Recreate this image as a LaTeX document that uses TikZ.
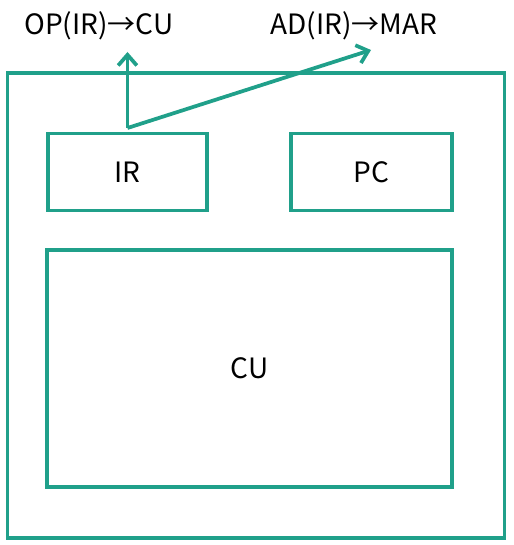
\documentclass[tikz,border=0pt]{standalone}
\usepackage{fontspec}
\setmainfont{Noto Sans CJK SC}
\usetikzlibrary{arrows.meta}
\definecolor{teal1}{RGB}{32,160,138}
\begin{document}
\begin{tikzpicture}[x=0.75pt,y=-0.75pt,
  box/.style={draw=teal1,line width=2.6pt,inner sep=0pt},
  lbl/.style={font=\fontsize{21}{24}\selectfont,text=black,inner sep=0pt},
  arr/.style={draw=teal1,line width=2.8pt,-{Straight Barb[length=8pt,width=14pt,line width=2.8pt]}}]
\useasboundingbox (0,0) rectangle (513,545);
\node[box,minimum width=372.75pt,minimum height=348.75pt] (outer) at (256,305.5) {};
\node[box,minimum width=119.25pt,minimum height=57.75pt] (ir) at (127.5,172) {};
\node[lbl] at (ir) {IR};
\node[box,minimum width=120.75pt,minimum height=57.75pt] (pc) at (371.5,172) {};
\node[lbl] at (pc) {PC};
\node[box,minimum width=303.75pt,minimum height=177.75pt] (cu) at (249.5,368.5) {};
\node[lbl] at (cu) {CU};
\coordinate (s) at (127.5,128);
\coordinate (t1) at (127.5,52);
\coordinate (t2) at (371,50);
\draw[arr] (s) -- (t1);
\draw[arr] (s) -- (t2);
\node[lbl] (op) at (99,26) {OP(IR)→CU};
\node[lbl] (ad) at (354,26) {AD(IR)→MAR};
\end{tikzpicture}
\end{document}
